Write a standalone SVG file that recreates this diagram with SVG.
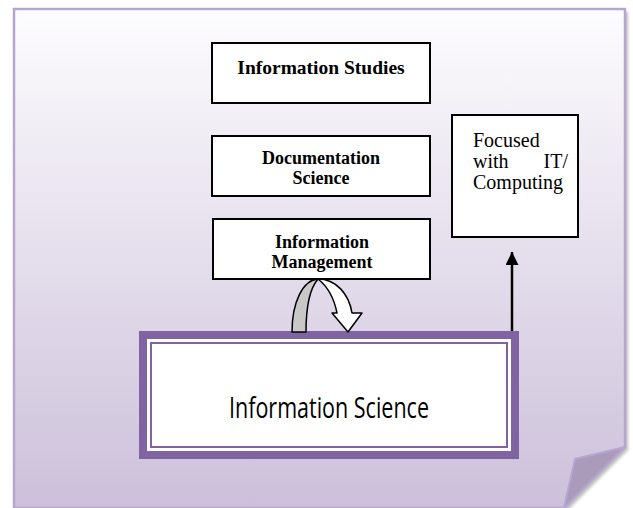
<svg xmlns="http://www.w3.org/2000/svg" width="633" height="508" viewBox="0 0 633 508">
  <defs>
    <linearGradient id="pageGrad" x1="0" y1="0" x2="0" y2="1">
      <stop offset="0" stop-color="#fdfcfe"/>
      <stop offset="0.45" stop-color="#e7e1ee"/>
      <stop offset="1" stop-color="#ccc0da"/>
    </linearGradient>
    <filter id="blur" x="-20%" y="-20%" width="140%" height="140%">
      <feGaussianBlur stdDeviation="1.5"/>
    </filter>
    <marker id="arrowHead" viewBox="0 0 10 10" refX="10" refY="5" markerWidth="17" markerHeight="13" markerUnits="userSpaceOnUse" orient="auto">
      <path d="M0,0 L10,5 L0,10 Z" fill="#000"/>
    </marker>
    <style>
      .box { fill: #ffffff; stroke: #000000; stroke-width: 2; }
      .bold { font-family: "Liberation Serif", "Times New Roman", serif; font-weight: bold; fill: #000; text-anchor: middle; }
      .reg { font-family: "Liberation Serif", "Times New Roman", serif; font-size: 20px; fill: #000; }
    </style>
  </defs>

  <!-- page background with curled corner -->
  <g id="page">
    <path d="M17,12 H628 V450 L567,511 H17 Z" fill="#8a8a8a" opacity="0.55" filter="url(#blur)"/>
    <path d="M14,9 H625 V447 L564,508 H14 Z" fill="url(#pageGrad)" stroke="#b6a6cf" stroke-width="2.5"/>
    <path d="M625,447 L575,459 L564,508 Z" fill="#a99bb9" stroke="#b6a6d2" stroke-width="2" stroke-linejoin="round"/>
  </g>

  <g id="node-information-studies">
    <rect class="box" x="212" y="43" width="218" height="60"/>
    <text class="bold" x="321" y="74" font-size="19.5">Information Studies</text>
  </g>

  <g id="node-documentation-science">
    <rect class="box" x="212" y="136" width="218" height="60"/>
    <text class="bold" x="321" y="164" font-size="18">Documentation</text>
    <text class="bold" x="321" y="184" font-size="18">Science</text>
  </g>

  <g id="node-information-management">
    <rect class="box" x="213" y="219" width="217" height="60"/>
    <text class="bold" x="322" y="248" font-size="18">Information</text>
    <text class="bold" x="322" y="268" font-size="18">Management</text>
    <rect x="212" y="278" width="219" height="2" fill="#000"/>
  </g>

  <g id="node-focused">
    <rect class="box" x="452" y="115" width="126" height="122"/>
    <text class="reg" x="473" y="147">Focused</text>
    <text class="reg" x="473" y="168">with</text>
    <text class="reg" x="568" y="168" text-anchor="end">IT/</text>
    <text class="reg" x="473" y="189">Computing</text>
  </g>

  <g id="node-information-science">
    <rect x="143" y="335" width="372" height="120" fill="#ffffff" stroke="#8064a2" stroke-width="8"/>
    <rect x="151" y="343" width="356" height="104" fill="none" stroke="#8064a2" stroke-width="2"/>
    <text x="329" y="418" font-family="Open Sans, DejaVu Sans, sans-serif" font-weight="400" font-size="30" text-anchor="middle" textLength="200" lengthAdjust="spacingAndGlyphs" fill="#000">Information Science</text>
  </g>

  <g id="connectors">
    <line x1="512" y1="331" x2="512" y2="252" stroke="#000" stroke-width="2.5" marker-end="url(#arrowHead)"/>
    <!-- curved U-turn arrow -->
    <path d="M292,332 C292,302 303,280 318,279 C311,287 306,305 306,332 Z" fill="#c8c8c8" stroke="#000" stroke-width="1.5" stroke-linejoin="round"/>
    <path d="M318,279 C336,279 349,294 352,313 L362,313 L348,332 L332,313 L337,313 C334,298 327,286 318,279 Z" fill="#ffffff" stroke="#000" stroke-width="1.5" stroke-linejoin="round"/>
  </g>
</svg>
